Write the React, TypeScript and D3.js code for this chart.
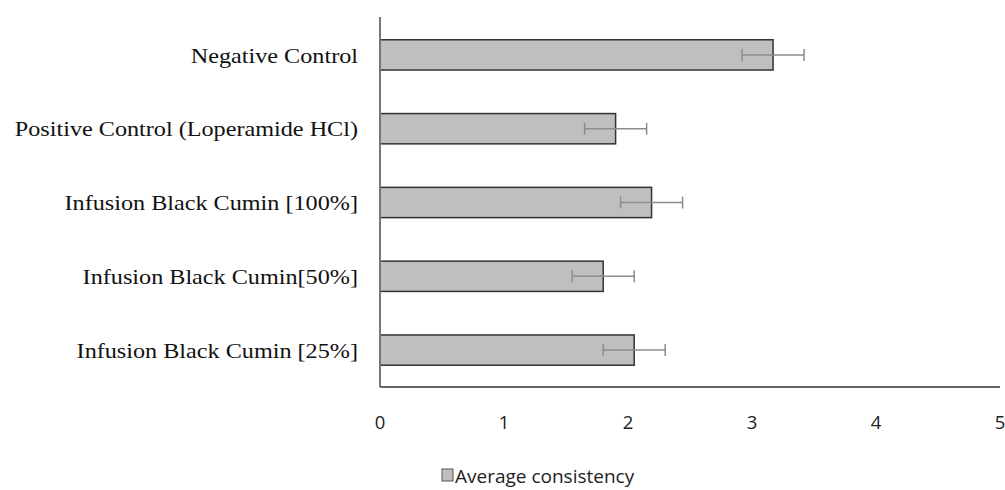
import React from "react";
import * as d3 from "d3";

const categories = [
  "Negative Control",
  "Positive Control (Loperamide HCl)",
  "Infusion Black Cumin [100%]",
  "Infusion Black Cumin[50%]",
  "Infusion Black Cumin [25%]",
];
const averageConsistency = [3.17, 1.9, 2.19, 1.8, 2.05];
const errorValues = [0.25, 0.25, 0.25, 0.25, 0.25];
const xTicks = [0, 1, 2, 3, 4, 5];
const seriesName = "Average consistency";

export default function App() {
  const W = 1005;
  const H = 490;
  const x = d3.scaleLinear().domain([0, 5]).range([380, 1000]);
  const y = d3.scaleBand<string>().domain(categories).range([18, 387]).paddingInner(0.59).paddingOuter(0.295);
  const bh = y.bandwidth();
  const labelX = 358;
  return (
    <svg width={W} height={H} style={{ position: "absolute", left: 0, top: 0, background: "#fff" }}>
      {categories.map((c, i) => {
        const y0 = y(c)!;
        const cy = y0 + bh / 2;
        const v = averageConsistency[i];
        const e = errorValues[i];
        return (
          <g key={c}>
            <rect x={x(0)} y={y0} width={x(v) - x(0)} height={bh} fill="#bfbfbf" stroke="#333" strokeWidth={1.5} />
            <line x1={x(v - e)} x2={x(v + e)} y1={cy} y2={cy} stroke="#8c8c8c" strokeWidth={1.5} />
            <line x1={x(v - e)} x2={x(v - e)} y1={cy - 6} y2={cy + 6} stroke="#8c8c8c" strokeWidth={1.5} />
            <line x1={x(v + e)} x2={x(v + e)} y1={cy - 6} y2={cy + 6} stroke="#8c8c8c" strokeWidth={1.5} />
            <g transform={`translate(${labelX},${cy}) scale(1.1,1)`}>
              <text x={0} y={0} textAnchor="end" dominantBaseline="central" fontFamily="'Liberation Serif', serif" fontSize={22} fill="#111">
                {c}
              </text>
            </g>
          </g>
        );
      })}
      <line x1={x(0)} x2={x(0)} y1={17} y2={387} stroke="#777" strokeWidth={2} />
      <line x1={x(0)} x2={x(5)} y1={387} y2={387} stroke="#333" strokeWidth={1.5} />
      {xTicks.map((t) => (
        <text key={t} x={x(t)} y={421} textAnchor="middle" dominantBaseline="central" fontFamily="'Open Sans', sans-serif" fontSize={18.5} fill="#222">
          {t}
        </text>
      ))}
      <rect x={442} y={469} width={11} height={12} fill="#bfbfbf" stroke="#555" strokeWidth={1} />
      <text x={455} y={476} dominantBaseline="central" fontFamily="'Open Sans', sans-serif" fontSize={19} fill="#222">
        {seriesName}
      </text>
    </svg>
  );
}
